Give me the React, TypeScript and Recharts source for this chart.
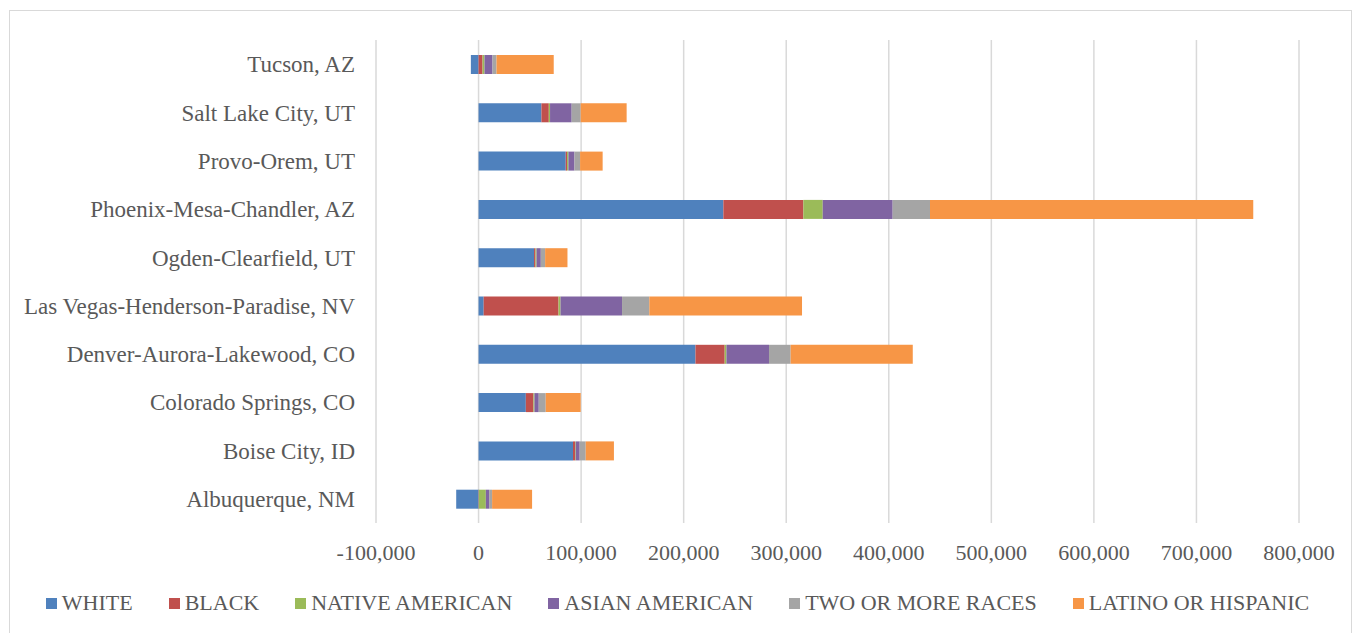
import React from 'react';
import { BarChart, Bar, XAxis, YAxis, CartesianGrid, Legend } from 'recharts';

const FONT = '"Liberation Serif", "DejaVu Serif", serif';
const TEXT = '#595959';

// categories, top to bottom as drawn
const metros = [
	'Tucson, AZ',
	'Salt Lake City, UT',
	'Provo-Orem, UT',
	'Phoenix-Mesa-Chandler, AZ',
	'Ogden-Clearfield, UT',
	'Las Vegas-Henderson-Paradise, NV',
	'Denver-Aurora-Lakewood, CO',
	'Colorado Springs, CO',
	'Boise City, ID',
	'Albuquerque, NM',
];

const white = [-7500, 61300, 85000, 238700, 54100, 5000, 211500, 46100, 92100, -21800];
const black = [3900, 7200, 1300, 78000, 1400, 73000, 28500, 7400, 2000, 300];
const native = [1900, 1200, 1300, 18900, 1000, 1900, 1700, 1000, 600, 6800];
const asian = [7800, 21100, 5900, 68200, 4200, 60000, 41500, 4200, 3900, 3200];
const twoOrMore = [3900, 8800, 5500, 36400, 4200, 26600, 21100, 6800, 5900, 2900];
const latino = [55800, 44800, 22000, 315200, 21800, 148900, 119100, 34100, 27500, 39000];

const xTicks = [-100000, 0, 100000, 200000, 300000, 400000, 500000, 600000, 700000, 800000];

const series = [
	{ key: 'white', name: 'WHITE', color: '#4F81BD', values: white },
	{ key: 'black', name: 'BLACK', color: '#C0504D', values: black },
	{ key: 'native', name: 'NATIVE AMERICAN', color: '#9BBB59', values: native },
	{ key: 'asian', name: 'ASIAN AMERICAN', color: '#8064A2', values: asian },
	{ key: 'two', name: 'TWO OR MORE RACES', color: '#A5A5A5', values: twoOrMore },
	{ key: 'latino', name: 'LATINO OR HISPANIC', color: '#F79646', values: latino },
];

const data = metros.map((name, i) => {
	const row: Record<string, any> = { name };
	series.forEach((s) => (row[s.key] = s.values[i]));
	return row;
});

const LegendRow = () => (
	<div
		style={{
			display: 'flex',
			justifyContent: 'center',
			alignItems: 'center',
			gap: 36,
			height: 30,
			fontFamily: FONT,
			fontSize: 22,
			color: TEXT,
			whiteSpace: 'nowrap',
		}}
	>
		{series.map((s) => (
			<div key={s.key} style={{ display: 'flex', alignItems: 'center' }}>
				<span style={{ width: 11, height: 11, background: s.color, display: 'inline-block', marginRight: 5 }} />
				<span>{s.name}</span>
			</div>
		))}
	</div>
);

export default function App() {
	return (
		<div style={{ position: 'absolute', left: 0, top: 0, width: 1355, height: 633, overflow: 'hidden', background: '#fff' }}>
			<div
				style={{
					position: 'absolute',
					left: 9,
					top: 10,
					width: 1343,
					height: 630,
					border: '1.5px solid #d9d9d9',
					boxSizing: 'border-box',
				}}
			/>
			<BarChart
				width={1355}
				height={633}
				data={data}
				layout="vertical"
				stackOffset="sign"
				margin={{ top: 40, right: 56, bottom: 15, left: 10 }}
				style={{ fontFamily: FONT }}
			>
				<CartesianGrid horizontal={false} stroke="#d9d9d9" strokeWidth={1.5} />
				<XAxis
					type="number"
					domain={[-100000, 800000]}
					ticks={xTicks}
					tickFormatter={(v: number) => v.toLocaleString('en-US')}
					axisLine={false}
					tickLine={false}
					tickMargin={15}
					height={65}
					interval={0}
					tick={{ fill: TEXT, fontSize: 22, fontFamily: FONT }}
				/>
				<YAxis
					type="category"
					dataKey="name"
					width={366}
					axisLine={false}
					tickLine={false}
					tickMargin={15}
					interval={0}
					tick={{ fill: TEXT, fontSize: 23, fontFamily: FONT }}
				/>
				{series.map((s) => (
					<Bar key={s.key} dataKey={s.key} name={s.name} stackId="a" fill={s.color} barSize={19} isAnimationActive={false} />
				))}
				<Legend verticalAlign="bottom" content={() => <LegendRow />} wrapperStyle={{ left: 0, width: 1355 }} />
			</BarChart>
		</div>
	);
}
